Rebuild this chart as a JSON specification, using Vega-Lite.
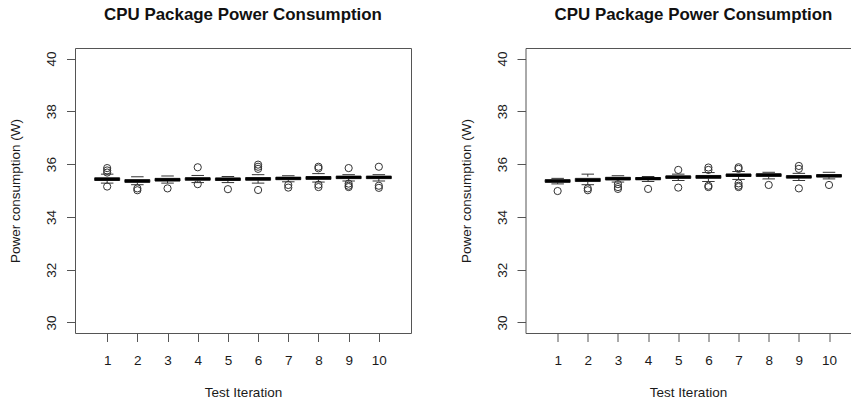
{
  "$schema": "https://vega.github.io/schema/vega-lite/v6.json",
  "padding": {"left": 8, "top": 5, "right": 0, "bottom": 0},
  "spacing": 46.5,
  "background": "white",
  "config": {
    "font": "Liberation Sans",
    "view": {"stroke": "#555", "strokeWidth": 1},
    "axis": {
      "grid": false,
      "domain": false,
      "domainColor": "#555",
      "tickColor": "#555",
      "tickSize": 8.5,
      "labelFont": "Liberation Sans",
      "labelFontSize": 13.5,
      "labelColor": "#1a1a1a",
      "labelOverlap": false,
      "titleFont": "Liberation Sans",
      "titleFontSize": 13.5,
      "titleFontWeight": "normal",
      "titleColor": "#1a1a1a"
    },
    "axisX": {"labelBaseline": "alphabetic", "labelPadding": 22.6, "titleBaseline": "alphabetic", "titleY": 63.8},
    "axisY": {"labelAngle": 270, "labelAlign": "center", "labelBaseline": "alphabetic", "labelPadding": 10.7, "titleBaseline": "middle", "titleX": -59.2, "titleAngle": 270},
    "title": {"font": "Liberation Sans", "fontSize": 16.9, "fontWeight": "bold", "color": "#111", "baseline": "alphabetic", "offset": 24, "anchor": "middle", "frame": "group"}
  },
  "datasets": {
    "leftBoxes": [
      {"iter": 1, "lo": 35.28, "q1": 35.38, "med": 35.43, "q3": 35.48, "hi": 35.62},
      {"iter": 2, "lo": 35.22, "q1": 35.31, "med": 35.36, "q3": 35.41, "hi": 35.52},
      {"iter": 3, "lo": 35.28, "q1": 35.36, "med": 35.41, "q3": 35.46, "hi": 35.55},
      {"iter": 4, "lo": 35.30, "q1": 35.39, "med": 35.44, "q3": 35.48, "hi": 35.57},
      {"iter": 5, "lo": 35.30, "q1": 35.38, "med": 35.43, "q3": 35.47, "hi": 35.53},
      {"iter": 6, "lo": 35.28, "q1": 35.39, "med": 35.44, "q3": 35.49, "hi": 35.60},
      {"iter": 7, "lo": 35.33, "q1": 35.41, "med": 35.46, "q3": 35.50, "hi": 35.56},
      {"iter": 8, "lo": 35.32, "q1": 35.42, "med": 35.48, "q3": 35.53, "hi": 35.64},
      {"iter": 9, "lo": 35.36, "q1": 35.45, "med": 35.50, "q3": 35.54, "hi": 35.60},
      {"iter": 10, "lo": 35.36, "q1": 35.45, "med": 35.50, "q3": 35.54, "hi": 35.60}
    ],
    "leftOutliers": [
      {"iter": 1, "value": 35.85}, {"iter": 1, "value": 35.76}, {"iter": 1, "value": 35.68}, {"iter": 1, "value": 35.15},
      {"iter": 2, "value": 35.08}, {"iter": 2, "value": 35.01},
      {"iter": 3, "value": 35.08},
      {"iter": 4, "value": 35.88}, {"iter": 4, "value": 35.24},
      {"iter": 5, "value": 35.05},
      {"iter": 6, "value": 35.98}, {"iter": 6, "value": 35.90}, {"iter": 6, "value": 35.82}, {"iter": 6, "value": 35.02},
      {"iter": 7, "value": 35.21}, {"iter": 7, "value": 35.11},
      {"iter": 8, "value": 35.90}, {"iter": 8, "value": 35.84}, {"iter": 8, "value": 35.22}, {"iter": 8, "value": 35.13},
      {"iter": 9, "value": 35.85}, {"iter": 9, "value": 35.26}, {"iter": 9, "value": 35.18}, {"iter": 9, "value": 35.13},
      {"iter": 10, "value": 35.90}, {"iter": 10, "value": 35.18}, {"iter": 10, "value": 35.10}
    ],
    "rightBoxes": [
      {"iter": 1, "lo": 35.25, "q1": 35.31, "med": 35.36, "q3": 35.41, "hi": 35.46},
      {"iter": 2, "lo": 35.22, "q1": 35.34, "med": 35.40, "q3": 35.46, "hi": 35.62},
      {"iter": 3, "lo": 35.32, "q1": 35.40, "med": 35.45, "q3": 35.50, "hi": 35.56},
      {"iter": 4, "lo": 35.34, "q1": 35.41, "med": 35.45, "q3": 35.49, "hi": 35.53},
      {"iter": 5, "lo": 35.38, "q1": 35.46, "med": 35.51, "q3": 35.55, "hi": 35.62},
      {"iter": 6, "lo": 35.34, "q1": 35.46, "med": 35.52, "q3": 35.57, "hi": 35.68},
      {"iter": 7, "lo": 35.42, "q1": 35.53, "med": 35.58, "q3": 35.62, "hi": 35.72},
      {"iter": 8, "lo": 35.44, "q1": 35.53, "med": 35.59, "q3": 35.63, "hi": 35.69},
      {"iter": 9, "lo": 35.38, "q1": 35.47, "med": 35.52, "q3": 35.56, "hi": 35.65},
      {"iter": 10, "lo": 35.44, "q1": 35.51, "med": 35.56, "q3": 35.60, "hi": 35.69}
    ],
    "rightOutliers": [
      {"iter": 1, "value": 34.98},
      {"iter": 2, "value": 35.08}, {"iter": 2, "value": 35.01},
      {"iter": 3, "value": 35.24}, {"iter": 3, "value": 35.13}, {"iter": 3, "value": 35.06},
      {"iter": 4, "value": 35.06},
      {"iter": 5, "value": 35.78}, {"iter": 5, "value": 35.11},
      {"iter": 6, "value": 35.87}, {"iter": 6, "value": 35.78}, {"iter": 6, "value": 35.18}, {"iter": 6, "value": 35.13},
      {"iter": 7, "value": 35.88}, {"iter": 7, "value": 35.82}, {"iter": 7, "value": 35.27}, {"iter": 7, "value": 35.18}, {"iter": 7, "value": 35.13},
      {"iter": 8, "value": 35.21},
      {"iter": 9, "value": 35.93}, {"iter": 9, "value": 35.82}, {"iter": 9, "value": 35.08},
      {"iter": 10, "value": 35.21}
    ]
  },
  "hconcat": [
    {
      "title": "CPU Package Power Consumption",
      "width": 336,
      "height": 285,
      "layer": [
        {
          "data": {"name": "leftBoxes"},
          "mark": {"type": "rule", "color": "#333", "strokeWidth": 1, "strokeDash": [4, 4]},
          "encoding": {
            "x": {"field": "iter", "type": "quantitative", "scale": {"domain": [0.1, 10.9], "nice": false, "zero": false},
                  "axis": {"values": [1, 2, 3, 4, 5, 6, 7, 8, 9, 10], "title": "Test Iteration"}},
            "y": {"field": "lo", "type": "quantitative", "scale": {"domain": [29.6, 40.4], "nice": false, "zero": false},
                  "axis": {"values": [30, 32, 34, 36, 38, 40], "title": "Power consumption (W)"}},
            "y2": {"field": "hi"}
          }
        },
        {
          "data": {"name": "leftBoxes"},
          "mark": {"type": "bar", "width": 25, "fill": "white", "stroke": "#333", "strokeWidth": 1},
          "encoding": {
            "x": {"field": "iter", "type": "quantitative", "scale": {"domain": [0.1, 10.9], "nice": false, "zero": false},
                  "axis": {"values": [1, 2, 3, 4, 5, 6, 7, 8, 9, 10], "title": "Test Iteration"}},
            "y": {"field": "q1", "type": "quantitative", "scale": {"domain": [29.6, 40.4], "nice": false, "zero": false},
                  "axis": {"values": [30, 32, 34, 36, 38, 40], "title": "Power consumption (W)"}},
            "y2": {"field": "q3"}
          }
        },
        {
          "data": {"name": "leftBoxes"},
          "mark": {"type": "tick", "orient": "horizontal", "size": 25, "thickness": 3, "color": "#000", "opacity": 1},
          "encoding": {
            "x": {"field": "iter", "type": "quantitative", "scale": {"domain": [0.1, 10.9], "nice": false, "zero": false},
                  "axis": {"values": [1, 2, 3, 4, 5, 6, 7, 8, 9, 10], "title": "Test Iteration"}},
            "y": {"field": "med", "type": "quantitative", "scale": {"domain": [29.6, 40.4], "nice": false, "zero": false},
                  "axis": {"values": [30, 32, 34, 36, 38, 40], "title": "Power consumption (W)"}}
          }
        },
        {
          "data": {"name": "leftBoxes"},
          "mark": {"type": "tick", "orient": "horizontal", "size": 12.5, "thickness": 1, "color": "#333", "opacity": 1},
          "encoding": {
            "x": {"field": "iter", "type": "quantitative", "scale": {"domain": [0.1, 10.9], "nice": false, "zero": false},
                  "axis": {"values": [1, 2, 3, 4, 5, 6, 7, 8, 9, 10], "title": "Test Iteration"}},
            "y": {"field": "lo", "type": "quantitative", "scale": {"domain": [29.6, 40.4], "nice": false, "zero": false},
                  "axis": {"values": [30, 32, 34, 36, 38, 40], "title": "Power consumption (W)"}}
          }
        },
        {
          "data": {"name": "leftBoxes"},
          "mark": {"type": "tick", "orient": "horizontal", "size": 12.5, "thickness": 1, "color": "#333", "opacity": 1},
          "encoding": {
            "x": {"field": "iter", "type": "quantitative", "scale": {"domain": [0.1, 10.9], "nice": false, "zero": false},
                  "axis": {"values": [1, 2, 3, 4, 5, 6, 7, 8, 9, 10], "title": "Test Iteration"}},
            "y": {"field": "hi", "type": "quantitative", "scale": {"domain": [29.6, 40.4], "nice": false, "zero": false},
                  "axis": {"values": [30, 32, 34, 36, 38, 40], "title": "Power consumption (W)"}}
          }
        },
        {
          "data": {"name": "leftOutliers"},
          "mark": {"type": "point", "shape": "circle", "filled": false, "size": 52, "stroke": "#333", "strokeWidth": 1, "opacity": 1},
          "encoding": {
            "x": {"field": "iter", "type": "quantitative", "scale": {"domain": [0.1, 10.9], "nice": false, "zero": false},
                  "axis": {"values": [1, 2, 3, 4, 5, 6, 7, 8, 9, 10], "title": "Test Iteration"}},
            "y": {"field": "value", "type": "quantitative", "scale": {"domain": [29.6, 40.4], "nice": false, "zero": false},
                  "axis": {"values": [30, 32, 34, 36, 38, 40], "title": "Power consumption (W)"}}
          }
        }
      ]
    },
    {
      "title": {"text": "CPU Package Power Consumption", "dx": 5.5},
      "width": 325,
      "height": 285,
      "view": {"stroke": null},
      "resolve": {"axis": {"x": "independent"}},
      "layer": [
        {
          "data": {"name": "rightBoxes"},
          "mark": {"type": "rule", "color": "#333", "strokeWidth": 1, "strokeDash": [4, 4]},
          "encoding": {
            "x": {"field": "iter", "type": "quantitative", "scale": {"domain": [0.1, 10.547], "nice": false, "zero": false},
                  "axis": {"values": [1, 2, 3, 4, 5, 6, 7, 8, 9, 10], "title": "Test Iteration", "domain": true}},
            "y": {"field": "lo", "type": "quantitative", "scale": {"domain": [29.6, 40.4], "nice": false, "zero": false},
                  "axis": {"values": [30, 32, 34, 36, 38, 40], "title": "Power consumption (W)", "domain": true}},
            "y2": {"field": "hi"}
          }
        },
        {
          "data": {"name": "rightBoxes"},
          "mark": {"type": "bar", "width": 25, "fill": "white", "stroke": "#333", "strokeWidth": 1},
          "encoding": {
            "x": {"field": "iter", "type": "quantitative", "scale": {"domain": [0.1, 10.547], "nice": false, "zero": false}, "axis": null},
            "y": {"field": "q1", "type": "quantitative", "scale": {"domain": [29.6, 40.4], "nice": false, "zero": false},
                  "axis": {"values": [30, 32, 34, 36, 38, 40], "title": "Power consumption (W)", "domain": true}},
            "y2": {"field": "q3"}
          }
        },
        {
          "data": {"name": "rightBoxes"},
          "mark": {"type": "tick", "orient": "horizontal", "size": 25, "thickness": 3, "color": "#000", "opacity": 1},
          "encoding": {
            "x": {"field": "iter", "type": "quantitative", "scale": {"domain": [0.1, 10.547], "nice": false, "zero": false}, "axis": null},
            "y": {"field": "med", "type": "quantitative", "scale": {"domain": [29.6, 40.4], "nice": false, "zero": false},
                  "axis": {"values": [30, 32, 34, 36, 38, 40], "title": "Power consumption (W)", "domain": true}}
          }
        },
        {
          "data": {"name": "rightBoxes"},
          "mark": {"type": "tick", "orient": "horizontal", "size": 12.5, "thickness": 1, "color": "#333", "opacity": 1},
          "encoding": {
            "x": {"field": "iter", "type": "quantitative", "scale": {"domain": [0.1, 10.547], "nice": false, "zero": false}, "axis": null},
            "y": {"field": "lo", "type": "quantitative", "scale": {"domain": [29.6, 40.4], "nice": false, "zero": false},
                  "axis": {"values": [30, 32, 34, 36, 38, 40], "title": "Power consumption (W)", "domain": true}}
          }
        },
        {
          "data": {"name": "rightBoxes"},
          "mark": {"type": "tick", "orient": "horizontal", "size": 12.5, "thickness": 1, "color": "#333", "opacity": 1},
          "encoding": {
            "x": {"field": "iter", "type": "quantitative", "scale": {"domain": [0.1, 10.547], "nice": false, "zero": false},
                  "axis": {"orient": "top", "labels": false, "ticks": false, "domain": true, "title": null}},
            "y": {"field": "hi", "type": "quantitative", "scale": {"domain": [29.6, 40.4], "nice": false, "zero": false},
                  "axis": {"values": [30, 32, 34, 36, 38, 40], "title": "Power consumption (W)", "domain": true}}
          }
        },
        {
          "data": {"name": "rightOutliers"},
          "mark": {"type": "point", "shape": "circle", "filled": false, "size": 52, "stroke": "#333", "strokeWidth": 1, "opacity": 1},
          "encoding": {
            "x": {"field": "iter", "type": "quantitative", "scale": {"domain": [0.1, 10.547], "nice": false, "zero": false}, "axis": null},
            "y": {"field": "value", "type": "quantitative", "scale": {"domain": [29.6, 40.4], "nice": false, "zero": false},
                  "axis": {"values": [30, 32, 34, 36, 38, 40], "title": "Power consumption (W)", "domain": true}}
          }
        }
      ]
    }
  ]
}
